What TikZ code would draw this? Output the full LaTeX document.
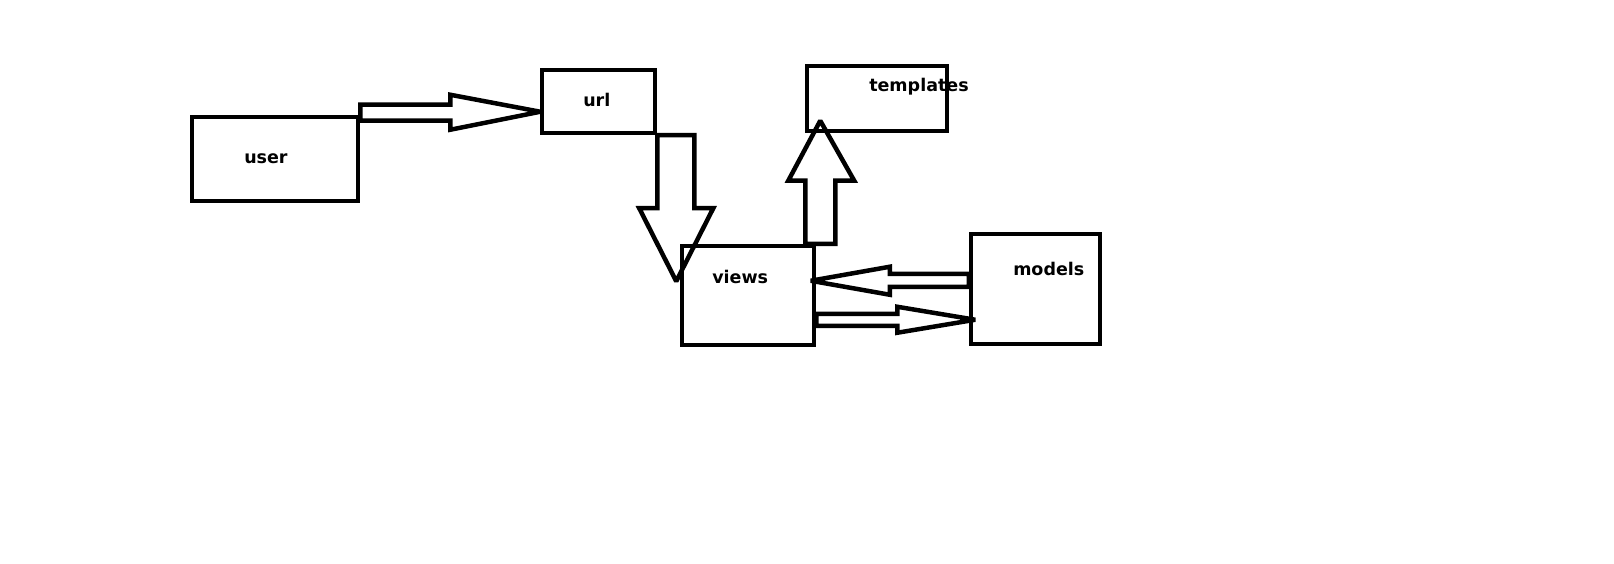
\documentclass[tikz,border=0pt]{standalone}
\usepackage{fontspec}
\setmainfont{DejaVu Sans}
\usepackage{tikz}

\begin{document}
\begin{tikzpicture}[x=1pt,y=-1pt,line width=4.5pt,every node/.style={inner sep=0pt,font=\fontsize{17.5}{20}\selectfont\bfseries},box/.style={draw,rectangle},blockarrow/.style={draw,line join=miter,miter limit=2}]
    \fill[white] (0,0) rectangle (1614,564);
    \useasboundingbox (0,0) rectangle (1614,564);
    \node[box,minimum width=166pt,minimum height=84pt] (user) at (275,159) {};
    \node[box,minimum width=113pt,minimum height=63pt] (url) at (598.5,101.5) {};
    \node[box,minimum width=140pt,minimum height=65pt] (templates) at (877,98.5) {};
    \node[box,minimum width=132pt,minimum height=99pt] (views) at (748,295.5) {};
    \node[box,minimum width=129pt,minimum height=110pt] (models) at (1035.5,289) {};
    \node[anchor=base west] (usertext) at (242,164) {user};
    \node[anchor=base west] (urltext) at (581,107) {url};
    \node[anchor=base west] (templatestext) at (867,92) {templates};
    \node[anchor=base west] (viewstext) at (710,283) {views};
    \node[anchor=base west] (modelstext) at (1011,275) {models};
    \draw[blockarrow] (user.north east) -- ++(0,-10) -- ++(90,0) -- ++(0,-10) -- ++(90,17) -- ++(-90,18) -- ++(0,-9) -- ++(-90,0) -- cycle;
    \draw[blockarrow] (url.south east) -- ++(37,0) -- ++(0,73) -- ++(19,0) -- ++(-37,73) -- ++(-37,-73) -- ++(18,0) -- cycle;
    \draw[blockarrow] ([xshift=-11pt]views.north east) -- ++(0,-63) -- ++(-17,0) -- ++(32,-60) -- ++(34,60) -- ++(-19,0) -- ++(0,63) -- cycle;
    \draw[blockarrow] ([yshift=-42pt]models.north west) -- ++(-79,0) -- ++(0,-7) -- ++(-79,14) -- ++(79,14) -- ++(0,-8) -- ++(79,0) -- cycle;
    \draw[blockarrow] ([yshift=-70pt]views.north east) -- ++(81,0) -- ++(0,-7) -- ++(78,13) -- ++(-78,13) -- ++(0,-7) -- ++(-81,0) -- cycle;
\end{tikzpicture}
\end{document}
